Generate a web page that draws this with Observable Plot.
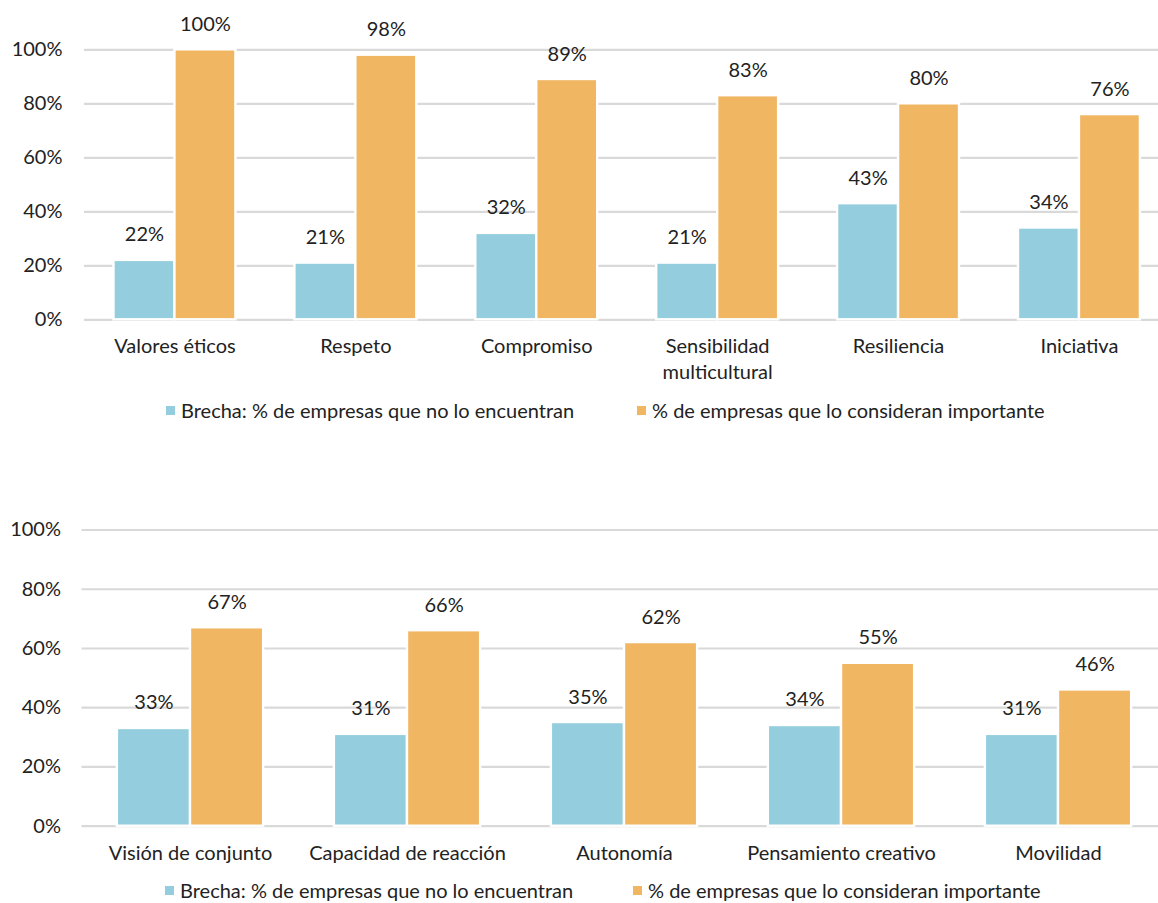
<!DOCTYPE html>
<html>
<head>
<meta charset="utf-8">
<script src="https://cdn.jsdelivr.net/npm/d3@7"></script>
<script src="https://cdn.jsdelivr.net/npm/@observablehq/plot@0.6"></script>
<style>
  html, body { margin: 0; padding: 0; background: #fff; }
  #wrap { position: relative; width: 1158px; height: 903px; overflow: hidden; font-family: Lato, "Liberation Sans", sans-serif; color: #222; }
  .layer { position: absolute; left: 0; }
  .legend { position: absolute; left: 0; width: 1158px; font-size: 20px; }
  .item { position: absolute; display: flex; align-items: center; white-space: nowrap; }
  .sw { width: 9px; height: 9px; margin-right: 6px; }
</style>
</head>
<body>
<div id="wrap"></div>
<script>
// ---- data ----
const topCategories = ["Valores éticos", "Respeto", "Compromiso", "Sensibilidad\nmulticultural", "Resiliencia", "Iniciativa"];
const topGap = [22, 21, 32, 21, 43, 34];
const topImportant = [100, 98, 89, 83, 80, 76];

const bottomCategories = ["Visión de conjunto", "Capacidad de reacción", "Autonomía", "Pensamiento creativo", "Movilidad"];
const bottomGap = [33, 31, 35, 34, 31];
const bottomImportant = [67, 66, 62, 55, 46];

const seriesNames = ["Brecha: % de empresas que no lo encuentran", "% de empresas que lo consideran importante"];
const seriesColors = ["#94CEDE", "#F0B662"];
const yTicks = [0, 20, 40, 60, 80, 100];

function makeRows(cats, gap, imp) {
  const rows = [];
  cats.forEach((c, i) => {
    rows.push({category: c, series: seriesNames[0], value: gap[i]});
    rows.push({category: c, series: seriesNames[1], value: imp[i]});
  });
  return rows;
}

const FONT = "Lato, 'Liberation Sans', sans-serif";
const FS = 20;
const wrap = document.getElementById("wrap");

function panel(cats, rows, cfg) {
  const common = {
    width: 1158, height: cfg.height,
    marginLeft: cfg.left, marginRight: 0,
    marginTop: cfg.top, marginBottom: cfg.bottom,
    style: {fontFamily: FONT, fontSize: FS + "px", color: "#222", background: "transparent", overflow: "visible"}
  };
  const grid = Plot.plot({
    ...common,
    y: {domain: [0, 100], axis: null},
    marks: [
      Plot.ruleY(yTicks, {stroke: "#d9d9d9", strokeWidth: 2.2}),
      Plot.axisY(yTicks, {anchor: "left", tickSize: 0, tickPadding: cfg.tickPad, tickFormat: d => d + "%", fontSize: FS, label: null})
    ]
  });
  const bars = Plot.plot({
    ...common,
    fx: {domain: cats, range: cfg.fxRange, paddingInner: 0.326, paddingOuter: 0.163, round: false, label: null},
    x: {domain: seriesNames, padding: 0, round: false, axis: null},
    y: {domain: [0, 100], axis: null},
    color: {domain: seriesNames, range: seriesColors},
    marks: [
      Plot.barY(rows, {fx: "category", x: "series", y: "value", fill: "series", stroke: "white", strokeWidth: 2.4}),
      Plot.text(rows, {fx: "category", x: "series", y: "value", text: d => d.value + "%", lineAnchor: "bottom", dy: -19, fontSize: FS, fill: "#222"}),
      Plot.axisFx({anchor: "bottom", tickSize: 0, tickPadding: cfg.labelPad, lineHeight: 1.3, fontSize: FS, label: null, fill: "#222"})
    ]
  });
  for (const svg of [grid, bars]) {
    svg.classList.add("layer");
    svg.style.top = cfg.y + "px";
    wrap.appendChild(svg);
  }
}

function legend(y, positions) {
  const div = document.createElement("div");
  div.className = "legend";
  div.style.top = y + "px";
  seriesNames.forEach((name, i) => {
    const it = document.createElement("div");
    it.className = "item";
    it.style.left = positions[i] + "px";
    const sw = document.createElement("span");
    sw.className = "sw";
    sw.style.background = seriesColors[i];
    const tx = document.createElement("span");
    tx.textContent = name;
    it.appendChild(sw); it.appendChild(tx);
    div.appendChild(it);
  });
  wrap.appendChild(div);
}

panel(topCategories, makeRows(topCategories, topGap, topImportant), {
  y: 0, height: 390, top: 49.3, bottom: 70.7, left: 84, tickPad: 22, labelPad: 15,
  fxRange: [84, 1169.4]
});
legend(398, [166, 637]);

panel(bottomCategories, makeRows(bottomCategories, bottomGap, bottomImportant), {
  y: 480, height: 390, top: 49.5, bottom: 44.3, left: 81.5, tickPad: 21, labelPad: 15,
  fxRange: [81.5, 1166.5]
});
legend(878, [165, 633]);
</script>
</body>
</html>
